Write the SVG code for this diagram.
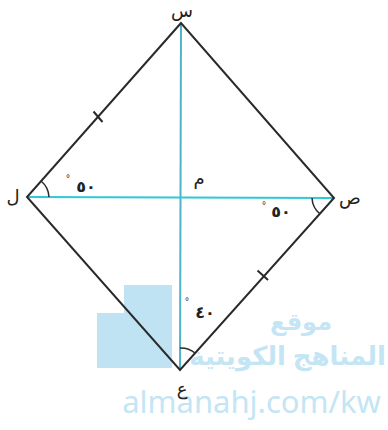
<svg xmlns="http://www.w3.org/2000/svg" width="388" height="430" viewBox="0 0 388 430">
<style>
.side{stroke:#2a2a2a;stroke-width:2;fill:none}
.arc{stroke:#2a2a2a;stroke-width:1.5;fill:none}
.lbl{font-family:"Noto Sans","DejaVu Sans",sans-serif;font-size:18px;fill:#222}
.num{font-family:"Noto Sans","DejaVu Sans",sans-serif;font-size:16px;font-weight:bold;fill:#222}
.deg{font-family:"Liberation Sans",sans-serif;font-size:10px;fill:#222}
.wm{fill:#c3e5f4;font-family:"Noto Sans","DejaVu Sans",sans-serif}
</style>
<rect width="388" height="430" fill="#fff"/>
<g id="watermark">
<path d="M124 285 H172 V368 H97 V313 H124 Z" fill="#bfe3f3"/>
<text class="wm" x="332" y="330" font-size="24" font-weight="bold" text-anchor="end">موقع</text>
<text class="wm" x="386" y="365" font-size="26" font-weight="bold" text-anchor="end">المناهج الكويتية</text>
<text class="wm" x="381" y="413" font-size="31" text-anchor="end" font-family="Open Sans, sans-serif">almanahj.com/kw</text>
</g>
<g id="connectors">
<line x1="181" y1="23" x2="180" y2="370" stroke="#4fb3c6" stroke-width="2"/>
<line x1="27" y1="197" x2="334" y2="198" stroke="#2cc9d6" stroke-width="2"/>
<path class="side" d="M181 23 L27 197 L180 370 L334 198 Z"/>
<line class="side" x1="93.5" y1="111.5" x2="102.5" y2="122"/>
<line class="side" x1="257.5" y1="270.5" x2="268" y2="280"/>
<path class="arc" d="M41 181 A22 22 0 0 1 49 197"/>
<path class="arc" d="M312 198 A22 22 0 0 0 320 214"/>
<path class="arc" d="M180 348 A22 22 0 0 1 195 353"/>
</g>
<g id="node-s"><text class="lbl" x="182" y="17" text-anchor="middle">س</text></g>
<g id="node-l"><text class="lbl" x="13" y="203" text-anchor="middle">ل</text></g>
<g id="node-ss"><text class="lbl" x="350" y="204" text-anchor="middle">ص</text></g>
<g id="node-a"><text class="lbl" x="182" y="395" text-anchor="middle">ع</text></g>
<g id="node-m"><text class="lbl" x="199" y="185" text-anchor="middle">م</text></g>
<g id="angle-l"><text class="deg" x="66" y="182">°</text><text class="num" x="86" y="192" text-anchor="middle">٥٠</text></g>
<g id="angle-r"><text class="deg" x="262" y="209">°</text><text class="num" x="281" y="217" text-anchor="middle">٥٠</text></g>
<g id="angle-b"><text class="deg" x="185" y="305">°</text><text class="num" x="205" y="318" text-anchor="middle">٤٠</text></g>
</svg>
